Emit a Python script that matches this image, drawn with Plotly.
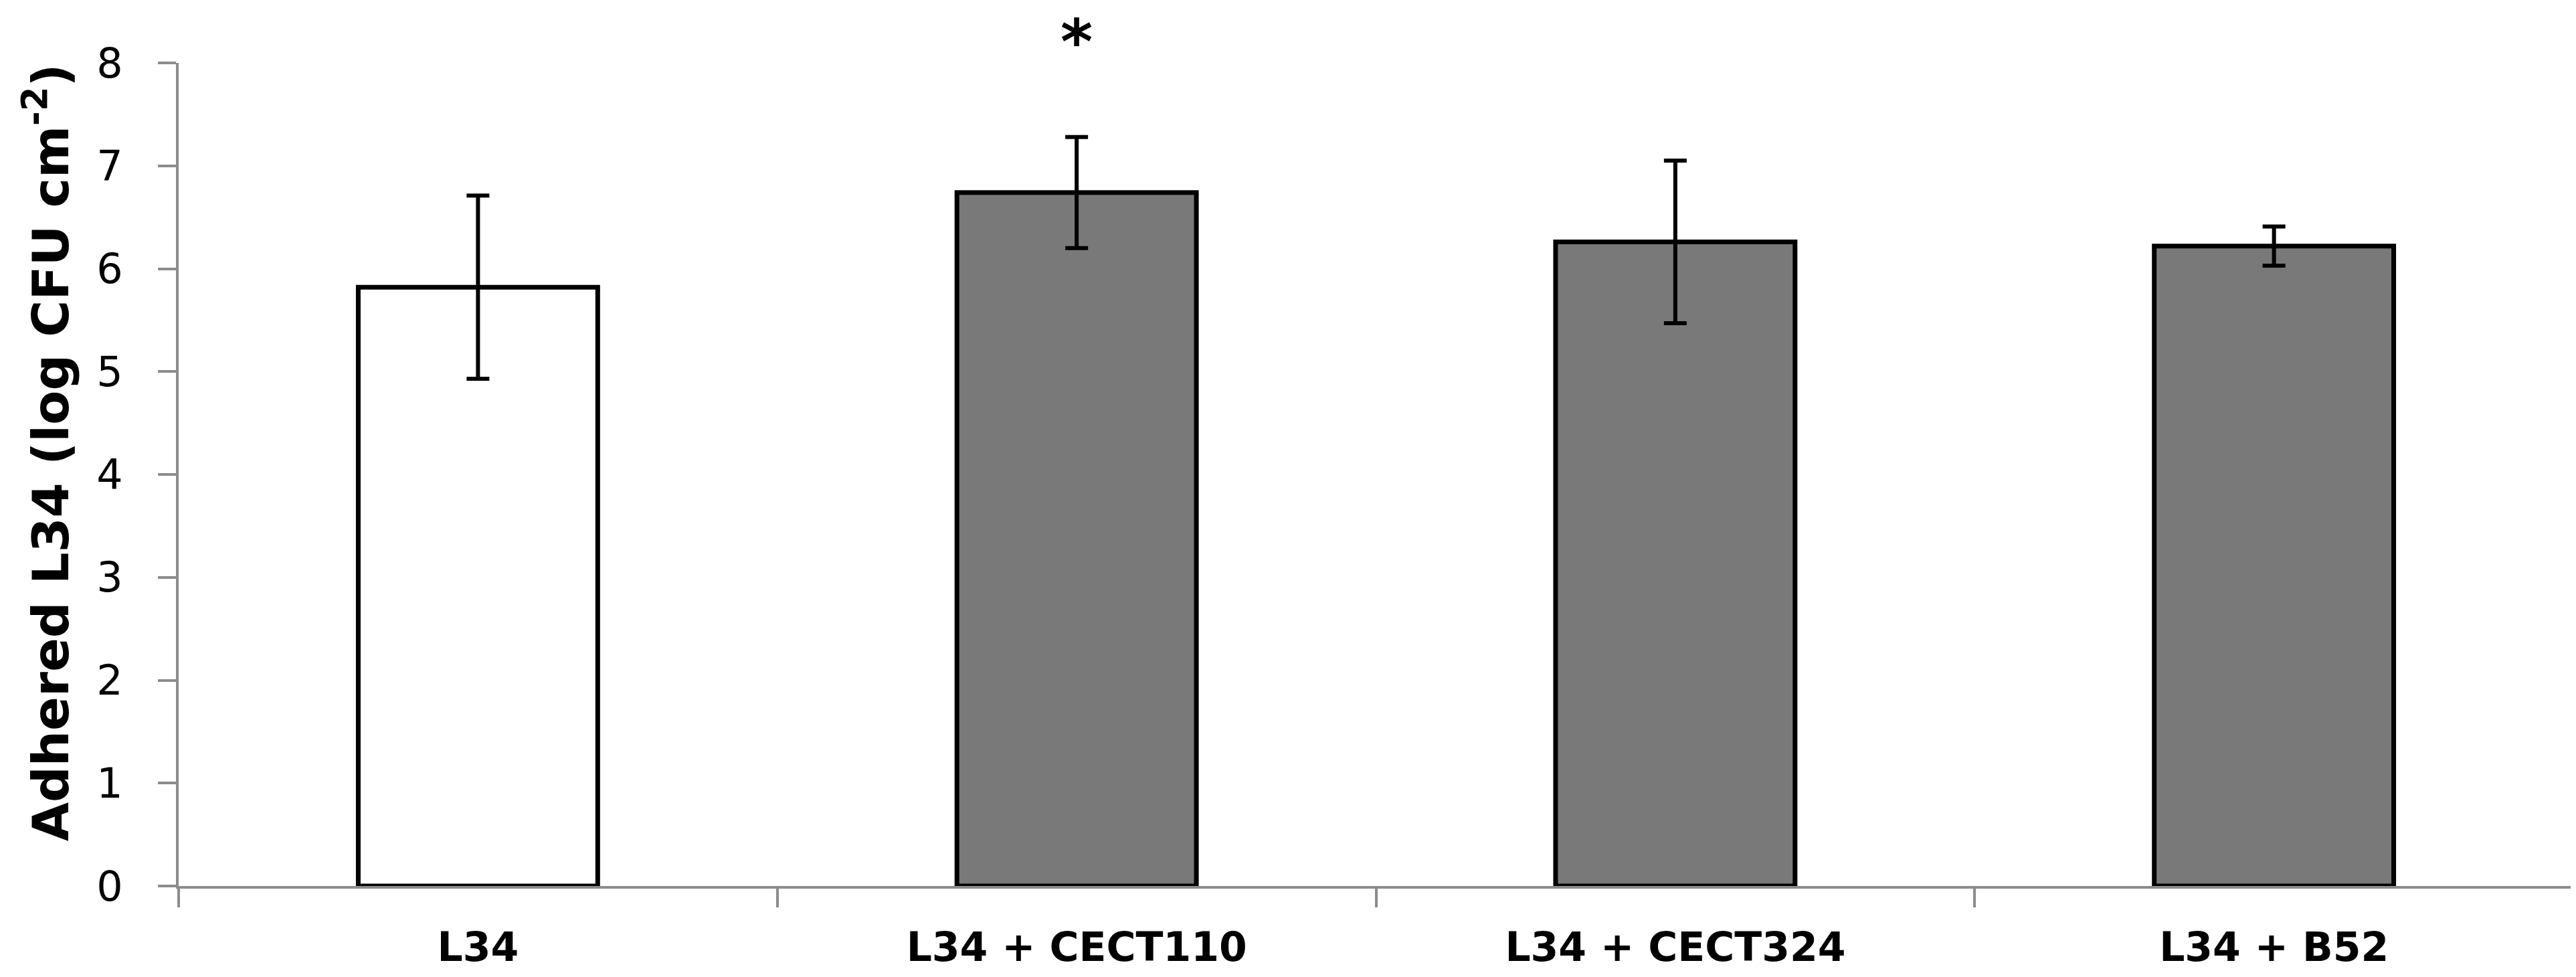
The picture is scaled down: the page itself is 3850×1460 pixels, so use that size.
import plotly.graph_objects as go

# adhesion of L34, alone and with competitor strains
groups = ["L34", "L34 + CECT110", "L34 + CECT324", "L34 + B52"]
adhered = [5.82, 6.74, 6.26, 6.22]
sd = [0.89, 0.54, 0.79, 0.19]
fills = ["#ffffff", "#797979", "#797979", "#797979"]
y_ticks = [0, 1, 2, 3, 4, 5, 6, 7, 8]

fig = go.Figure()
fig.add_trace(go.Bar(
    x=groups,
    y=adhered,
    width=0.40,
    marker=dict(color=fills, line=dict(color="#000000", width=7)),
    error_y=dict(type="data", array=sd, visible=True, color="#000000",
                 thickness=6, width=17),
))

# significance mark (paper ref so it is not hidden above the y range)
fig.add_annotation(x=groups[1], xref="x", y=1.025, yref="paper", text="<b>*</b>",
                   showarrow=False, yanchor="middle",
                   font=dict(family="DejaVu Sans", size=92, color="#000000"))

# y title as a rotated annotation so it can sit where the reference has it
fig.add_annotation(x=(62 - 259) / (3850 - 259 - 12), xref="paper", xanchor="center",
                   y=0.5 + 33 / 1230, yref="paper",
                   text="<b>Adhered L34 (log CFU cm<sup>-2</sup>)</b>", textangle=-90,
                   showarrow=False, font=dict(family="DejaVu Sans", size=75, color="#000000"))

fig.update_layout(
    width=3850, height=1460,
    margin=dict(l=259, r=12, t=86, b=144),
    plot_bgcolor="#ffffff", paper_bgcolor="#ffffff",
    showlegend=False,
    font=dict(family="DejaVu Sans", color="#000000"),
)

fig.update_yaxes(
    range=[0, 8], tickvals=y_ticks,
    showgrid=False, zeroline=False,
    showline=True, linecolor="#8c8c8c", linewidth=4,
    ticks="outside", ticklen=27, tickwidth=4, tickcolor="#8c8c8c",
    tickfont=dict(size=62, family="DejaVu Sans"),
    ticklabelstandoff=40,
)
fig.update_xaxes(
    showgrid=False,
    showline=True, linecolor="#8c8c8c", linewidth=4,
    ticks="outside", tickson="boundaries", ticklen=28, tickwidth=4, tickcolor="#8c8c8c",
    tickfont=dict(size=60, family="DejaVu Sans"),
    tickvals=groups, ticktext=["<b>%s</b>" % g for g in groups],
    ticklabelstandoff=36,
)

fig.write_html("out.html")
